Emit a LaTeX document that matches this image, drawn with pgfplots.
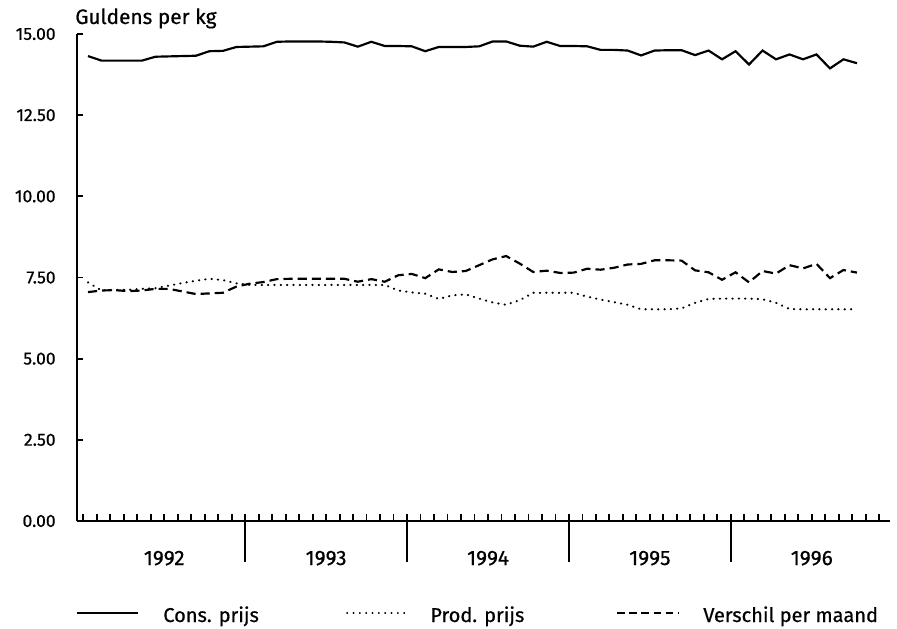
\documentclass[border=0pt]{standalone}
\usepackage{pgfplots}
\pgfplotsset{compat=1.18}
\usepackage{pgfplotstable}
\usepackage{fontspec}
\setmainfont{Fira Sans}[FakeBold=0.6]
\pgfplotstableread{
i cons prod diff
0 14.32 7.35 7.05
1 14.18 7.10 7.10
2 14.18 7.12 7.11
3 14.18 7.12 7.08
4 14.18 7.15 7.10
5 14.30 7.17 7.15
6 14.31 7.25 7.15
7 14.32 7.33 7.07
8 14.33 7.40 6.99
9 14.47 7.46 7.01
10 14.48 7.42 7.03
11 14.60 7.32 7.22
12 14.61 7.27 7.31
13 14.62 7.27 7.36
14 14.76 7.27 7.45
15 14.77 7.27 7.46
16 14.77 7.27 7.46
17 14.77 7.27 7.46
18 14.76 7.27 7.46
19 14.74 7.27 7.46
20 14.61 7.27 7.37
21 14.76 7.27 7.45
22 14.63 7.27 7.37
23 14.63 7.10 7.57
24 14.62 7.04 7.61
25 14.47 7.00 7.48
26 14.60 6.84 7.75
27 14.60 6.95 7.67
28 14.60 6.98 7.70
29 14.62 6.85 7.88
30 14.77 6.73 8.06
31 14.77 6.66 8.16
32 14.64 6.80 7.93
33 14.61 7.03 7.67
34 14.76 7.03 7.71
35 14.63 7.03 7.64
36 14.63 7.03 7.65
37 14.62 6.91 7.77
38 14.51 6.82 7.74
39 14.51 6.74 7.80
40 14.49 6.66 7.90
41 14.34 6.52 7.92
42 14.49 6.52 8.03
43 14.50 6.52 8.03
44 14.50 6.55 8.02
45 14.35 6.72 7.72
46 14.49 6.84 7.66
47 14.22 6.85 7.43
48 14.47 6.85 7.66
49 14.06 6.85 7.35
50 14.49 6.83 7.70
51 14.22 6.72 7.62
52 14.37 6.53 7.88
53 14.22 6.52 7.78
54 14.37 6.52 7.92
55 13.94 6.52 7.48
56 14.22 6.52 7.73
57 14.10 6.52 7.65
}\datatable
\begin{document}
\begin{tikzpicture}
\begin{axis}[
  name=ax,
  scale only axis,
  width=487.8pt, height=292.2pt,
  xmin=-0.465, xmax=59.8,
  ymin=0, ymax=15,
  axis x line*=bottom, axis y line*=left,
  axis line style={-, line width=1.2pt},
  tick align=inside,
  tick style={line width=1.1pt, black},
  major tick length=3.6pt,
  xtick={6,18,30,42,54},
  xticklabels={1992,1993,1994,1995,1996},
  x tick style={draw=none},
  xticklabel style={anchor=base, yshift=-26.4pt, font=\fontsize{12.5}{14}\selectfont},
  ytick={0,2.5,5,7.5,10,12.5,15},
  yticklabel style={xshift=-9.3pt, font=\fontsize{10.5}{12}\selectfont, /pgf/number format/.cd, fixed, fixed zerofill, precision=2},
  /pgf/number format/assume math mode=true,
  clip=false,
]
\addplot[black, line width=1.3pt] table[x expr=\thisrow{i}+0.35, y=cons] {\datatable};
\addplot[black, line width=1.3pt, line cap=round, dash pattern=on 0.2pt off 3.6pt] table[x expr=\thisrow{i}+0.35, y=prod] {\datatable};
\addplot[black, line width=1.3pt, dash pattern=on 5.5pt off 3pt] table[x expr=\thisrow{i}+0.35, y=diff] {\datatable};
\pgfplotsinvokeforeach{12,24,36,48}{\draw[line width=1.2pt] (axis cs:#1,0) -- ++(0pt,-24.6pt);}
\pgfplotsinvokeforeach{0,...,59}{\draw[line width=1.1pt] (axis cs:#1,0) -- ++(0pt,4pt);}
\end{axis}
\node[anchor=base west, inner sep=0pt, font=\fontsize{12.5}{14}\selectfont] at ([xshift=-1.2pt, yshift=6pt]ax.north west) {Guldens per kg};
% legend
\begin{scope}[shift={(ax.south west)}]
\draw[line width=1.2pt] (0pt,-55.2pt) -- (36.6pt,-55.2pt);
\node[anchor=base west, inner sep=0pt, font=\fontsize{12}{14}\selectfont] at (51.6pt,-60.6pt) {Cons. prijs};
\draw[line width=1pt, line cap=round, dash pattern=on 0.2pt off 3.6pt] (162pt,-55.2pt) -- (196.8pt,-55.2pt);
\node[anchor=base west, inner sep=0pt, font=\fontsize{12}{14}\selectfont] at (211.8pt,-60.6pt) {Prod. prijs};
\draw[line width=1.2pt, dash pattern=on 4.5pt off 2.8pt] (324pt,-55.2pt) -- (360.6pt,-55.2pt);
\node[anchor=base west, inner sep=0pt, font=\fontsize{12}{14}\selectfont] at (375.6pt,-60.6pt) {Verschil per maand};
\end{scope}
\pgfresetboundingbox
\path ([xshift=-46.2pt, yshift=-64.2pt]ax.south west) rectangle ([xshift=4.2pt, yshift=20.4pt]ax.north east);
\end{tikzpicture}
\end{document}
